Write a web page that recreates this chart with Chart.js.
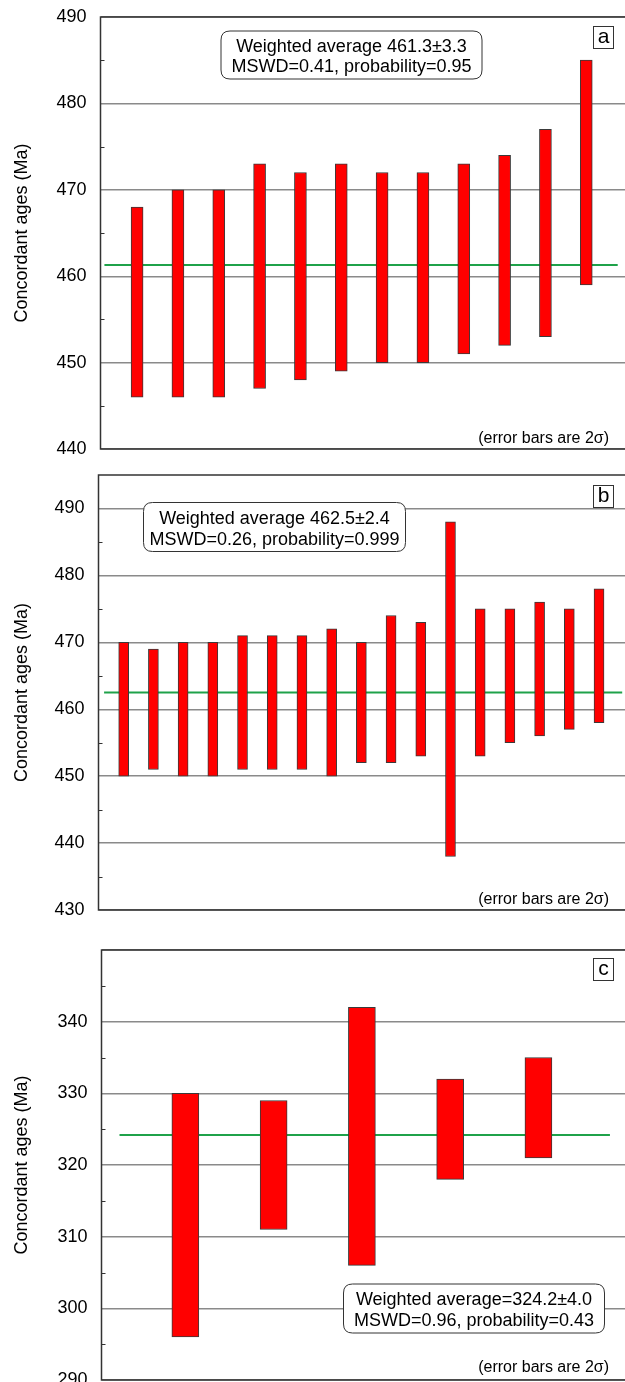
<!DOCTYPE html>
<html>
<head>
<meta charset="utf-8">
<script src="https://cdn.jsdelivr.net/npm/chart.js@4.4.1/dist/chart.umd.min.js"></script>
<style>
  html, body { margin: 0; padding: 0; background: #fff; overflow: hidden; width: 625px; height: 1382px; }
  .panel { position: absolute; left: 0; }
</style>
</head>
<body>
<div class="panel" style="top:0"><canvas id="chartA" width="640" height="460"></canvas></div>
<div class="panel" style="top:460px"><canvas id="chartB" width="640" height="461"></canvas></div>
<div class="panel" style="top:920px"><canvas id="chartC" width="640" height="471"></canvas></div>
<script>
// panel a: 12 analyses
const lowA  = [446, 446, 446, 447, 448, 449, 450, 450, 451, 452, 453, 459];
const highA = [468, 470, 470, 473, 472, 473, 472, 472, 473, 474, 477, 485];
const meanA = 461.3;
const meanSpanA = [0.2, 12.77];

// panel b: 17 analyses
const lowB  = [450, 451, 450, 450, 451, 451, 451, 450, 452, 452, 453, 438, 453, 455, 456, 457, 458];
const highB = [470, 469, 470, 470, 471, 471, 471, 472, 470, 474, 473, 488, 475, 475, 476, 475, 478];
const meanB = 462.5;
const meanSpanB = [0.34, 17.78];

// panel c: 5 analyses
const lowC  = [296, 311, 306, 318, 321];
const highC = [330, 329, 342, 332, 335];
const meanC = 324.2;
const meanSpanC = [0.254, 5.81];

const FONT = "'Liberation Sans', Arial, sans-serif";

function roundRect(ctx, x, y, w, h, r) {
  ctx.beginPath();
  ctx.moveTo(x + r, y);
  ctx.lineTo(x + w - r, y);
  ctx.quadraticCurveTo(x + w, y, x + w, y + r);
  ctx.lineTo(x + w, y + h - r);
  ctx.quadraticCurveTo(x + w, y + h, x + w - r, y + h);
  ctx.lineTo(x + r, y + h);
  ctx.quadraticCurveTo(x, y + h, x, y + h - r);
  ctx.lineTo(x, y + r);
  ctx.quadraticCurveTo(x, y, x + r, y);
  ctx.closePath();
}

// frame, inner minor ticks, panel letter, stats box and note
const decorPlugin = {
  id: 'decor',
  afterDraw(chart, args, o) {
    const { ctx, chartArea: a, scales: { y } } = chart;
    ctx.save();
    ctx.strokeStyle = '#333';
    ctx.lineWidth = 1;
    for (let v = y.min + 5; v < y.max; v += 10) {
      const py = Math.round(y.getPixelForValue(v)) + 0.5;
      ctx.beginPath();
      ctx.moveTo(a.left, py);
      ctx.lineTo(a.left + 4, py);
      ctx.stroke();
    }
    ctx.lineWidth = 1.5;
    ctx.strokeRect(a.left, a.top, a.width, a.height);

    // letter box
    ctx.lineWidth = 1;
    ctx.fillStyle = '#fff';
    ctx.fillRect(593, a.top + o.letterDy, 20, 22);
    ctx.strokeRect(593.5, a.top + o.letterDy + 0.5, 20, 22);
    ctx.fillStyle = '#000';
    ctx.font = '21px ' + FONT;
    ctx.textAlign = 'center';
    ctx.textBaseline = 'middle';
    ctx.fillText(o.letter, 603.5, a.top + o.letterDy + 11);

    // stats box
    const b = o.box;
    roundRect(ctx, b.x, b.y, b.w, b.h, 9);
    ctx.fillStyle = '#fff';
    ctx.fill();
    ctx.strokeStyle = '#333';
    ctx.stroke();
    ctx.fillStyle = '#000';
    ctx.font = '18px ' + FONT;
    ctx.fillText(o.lines[0], b.x + b.w / 2, b.y + b.h * 0.33);
    ctx.fillText(o.lines[1], b.x + b.w / 2, b.y + b.h * 0.76);

    // note
    ctx.font = '16px ' + FONT;
    ctx.textAlign = 'right';
    ctx.fillText('(error bars are 2\u03c3)', 609, a.bottom - o.noteDy);
    ctx.restore();
  }
};

function makePanel(id, low, high, mean, span, cfg) {
  const bars = low.map((lo, i) => ({ x: i + 1, y: [lo, high[i]] }));
  new Chart(document.getElementById(id), {
    type: 'bar',
    data: {
      datasets: [
        {
          data: bars,
          backgroundColor: '#ff0000',
          borderColor: '#3a3a3a',
          borderWidth: 1,
          borderSkipped: false,
          barThickness: cfg.barWidth,
          order: 1
        },
        {
          type: 'line',
          data: [{ x: span[0], y: mean }, { x: span[1], y: mean }],
          borderColor: '#1fa24a',
          borderWidth: 2,
          pointRadius: 0,
          order: 2
        }
      ]
    },
    options: {
      responsive: false,
      animation: false,
      layout: { padding: { top: cfg.padTop, bottom: cfg.padBottom, right: 8, left: 0 } },
      plugins: {
        legend: { display: false },
        tooltip: { enabled: false },
        decor: cfg.decor
      },
      scales: {
        x: { type: 'linear', display: false, offset: false, min: cfg.xMin, max: cfg.xMax },
        y: {
          min: cfg.yMin,
          max: cfg.yMax,
          afterFit: s => { s.width = cfg.left; },
          ticks: {
            stepSize: 10,
            includeBounds: false,
            padding: 0,
            color: '#000',
            font: { family: FONT, size: 18 },
            callback: v => (v === cfg.hideLabel ? '' : v)
          },
          grid: { color: '#8a8a8a', lineWidth: 1.4, drawTicks: true, tickLength: 14, tickColor: 'rgba(0,0,0,0)' },
          border: { display: false },
          title: {
            display: true,
            text: 'Concordant ages (Ma)',
            color: '#000',
            font: { family: FONT, size: 18 },
            padding: { top: 11, bottom: 0 }
          }
        }
      }
    },
    plugins: [decorPlugin]
  });
}

makePanel('chartA', lowA, highA, meanA, meanSpanA, {
  left: 100.5, padTop: 17, padBottom: 11, xMin: 0.104, xMax: 13.12, yMin: 440, yMax: 490, barWidth: 12,
  decor: {
    letter: 'a', letterDy: 9, noteDy: 10,
    box: { x: 221, y: 31, w: 261, h: 48 },
    lines: ['Weighted average 461.3\u00b13.3', 'MSWD=0.41, probability=0.95']
  }
});

makePanel('chartB', lowB, highB, meanB, meanSpanB, {
  left: 98.5, padTop: 15, padBottom: 11, xMin: 0.152, xMax: 18.11, yMin: 430, yMax: 495, barWidth: 10,
  decor: {
    letter: 'b', letterDy: 10, noteDy: 10,
    box: { x: 143.5, y: 42.5, w: 262, h: 49 },
    lines: ['Weighted average 462.5\u00b12.4', 'MSWD=0.26, probability=0.999']
  }
});

makePanel('chartC', lowC, highC, meanC, meanSpanC, {
  left: 101.5, padTop: 30, padBottom: 11, xMin: 0.05, xMax: 6.06, yMin: 290, yMax: 350, barWidth: 27,
  hideLabel: 350,
  decor: {
    letter: 'c', letterDy: 8, noteDy: 12,
    box: { x: 343.5, y: 364, w: 261, h: 49 },
    lines: ['Weighted average=324.2\u00b14.0', 'MSWD=0.96, probability=0.43']
  }
});
</script>
</body>
</html>
